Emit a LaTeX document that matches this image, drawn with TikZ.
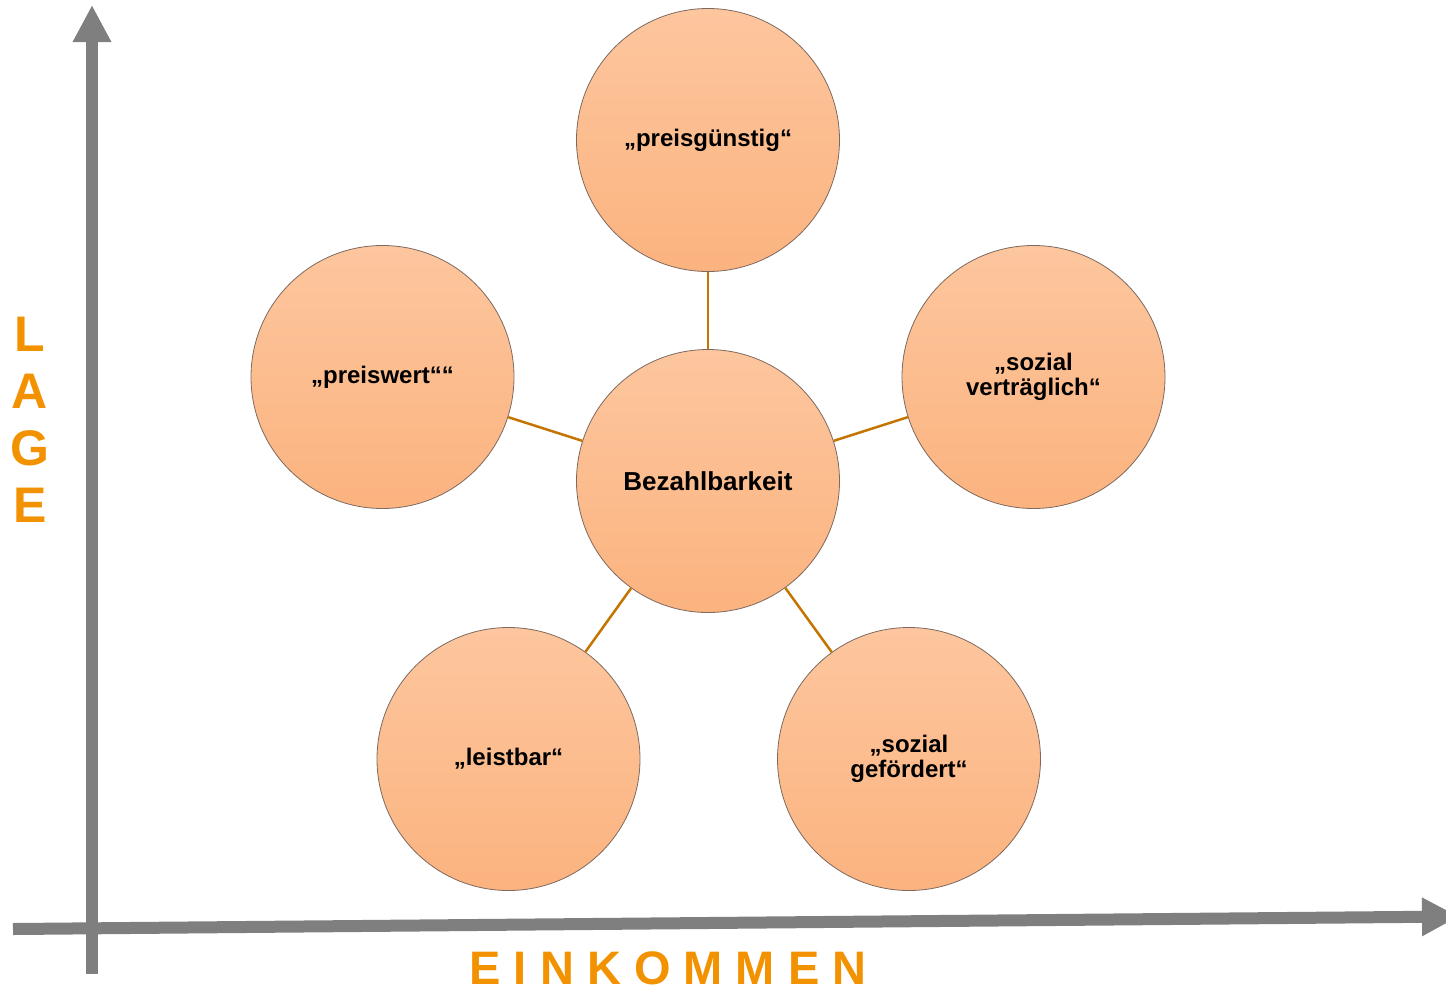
\documentclass[tikz,border=0pt]{standalone}
\usepackage{fontspec}
\setmainfont{Liberation Sans}
\usepackage{tikz}
\usetikzlibrary{arrows.meta,positioning,calc}
\definecolor{caxis}{RGB}{127,127,127}
\definecolor{clabel}{RGB}{243,146,0}
\definecolor{clink}{RGB}{196,116,0}
\definecolor{ctop}{RGB}{253,198,158}
\definecolor{cbot}{RGB}{251,179,127}
\definecolor{crim}{RGB}{125,105,95}
\tikzset{
  bubble/.style={circle, draw=crim, line width=0.8pt, minimum size=263pt, inner sep=0pt,
    top color=ctop, bottom color=cbot, align=center,
    font=\fontsize{24}{25}\selectfont\bfseries},
  link/.style={clink, line width=2.5pt},
  axis/.style={caxis, line width=12pt, -{Triangle[width=36pt,length=37pt]}}
}
\begin{document}
\begin{tikzpicture}[x=1pt,y=-1pt]
  \useasboundingbox (0,0) rectangle (1446,994);
  % axes
  \coordinate (ybot) at (92,974);
  \coordinate (ytop) at (92,5);
  \coordinate (xleft) at (13,929);
  \coordinate (xright) at (1459,916.5);
  \draw[axis] (ybot) -- (ytop);
  \draw[axis] (xleft) -- (xright);
  \node[clabel, inner sep=0pt, anchor=base, font=\fontsize{47}{47}\selectfont\bfseries] (einkommen) at (668,984) {E I N K O M M E N};
  \node[clabel, align=center, font=\fontsize{50}{57}\selectfont\bfseries] (lage) at (30,420) {L\\A\\G\\E};
  % bubbles
  \node[bubble] (bez) at (708,481) {\fontsize{26}{28}\selectfont Bezahlbarkeit};
  \node[bubble] (guenstig) at (708,140) {„preisgünstig“};
  \node[bubble] (wert) at (382.5,377) {„preiswert““};
  \node[bubble] (vertr) at (1033.5,377) {„sozial\\verträglich“};
  \node[bubble] (leist) at (508.5,759) {„leistbar“};
  \node[bubble] (gefoe) at (909,759) {„sozial\\gefördert“};
  \foreach \n in {guenstig,wert,vertr,leist,gefoe}
    \draw[link] (bez) -- (\n);
\end{tikzpicture}
\end{document}
